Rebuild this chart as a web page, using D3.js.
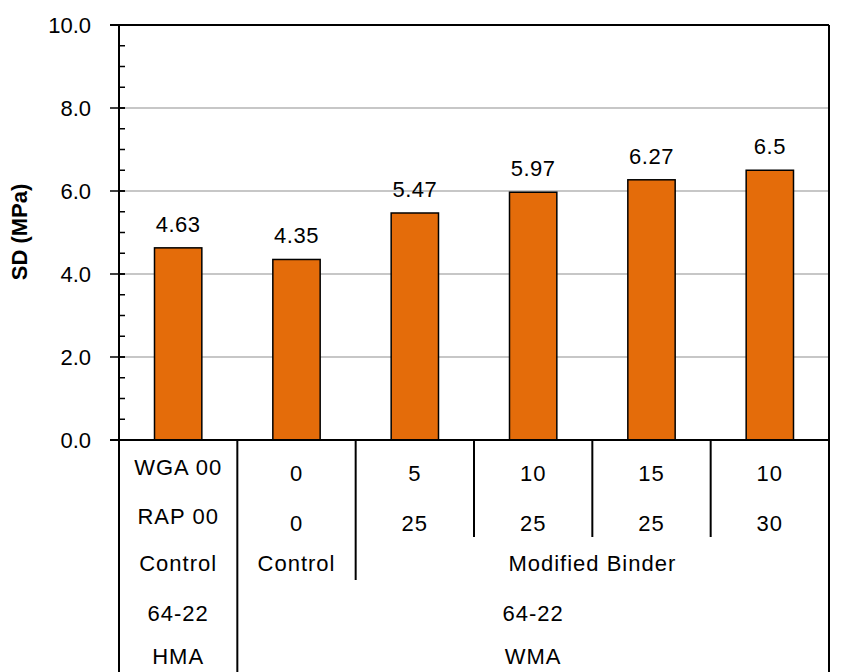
<!DOCTYPE html>
<html>
<head>
<meta charset="utf-8">
<script src="https://cdn.jsdelivr.net/npm/d3@7"></script>
<style>
  body { margin: 0; background: #fff; }
  text { font-family: "Liberation Sans", Arial, sans-serif; fill: #000; }
</style>
</head>
<body>
<div id="chart"></div>
<script>
// chart values
const values = [4.63, 4.35, 5.47, 5.97, 6.27, 6.5];
const valueLabels = ["4.63", "4.35", "5.47", "5.97", "6.27", "6.5"];
const wgaRow = ["WGA 00", "0", "5", "10", "15", "10"];
const rapRow = ["RAP 00", "0", "25", "25", "25", "30"];
const binderRow = [
    {label: "Control", from: 0, to: 0},
    {label: "Control", from: 1, to: 1},
    {label: "Modified Binder", from: 2, to: 5}
];
const gradeRow = [
    {label: "64-22", from: 0, to: 0},
    {label: "64-22", from: 1, to: 5}
];
const mixRow = [
    {label: "HMA", from: 0, to: 0},
    {label: "WMA", from: 1, to: 5}
];
const majorTicks = [0, 2, 4, 6, 8, 10];
const minorTicks = d3.range(0, 10.01, 0.5);

const CTX = {
    W: 856,
    H: 672,
    left: 119,
    right: 829,
    top: 25,
    bottom: 440,
    FS: 22,
    BAR: "#E46C0A"
};

const svg = d3.select("#chart").append("svg")
    .attr("width", CTX.W)
    .attr("height", CTX.H);

const y = d3.scaleLinear().domain([0, 10]).range([CTX.bottom, CTX.top]);
const cols = d3.scaleBand().domain(d3.range(values.length)).range([CTX.left, CTX.right]);
const x = d3.scaleBand().domain(d3.range(values.length)).range([CTX.left, CTX.right])
    .paddingInner(0.6).paddingOuter(0.3);

// gridlines
svg.append("g")
    .selectAll("line")
    .data(majorTicks.filter(d => d > 0 && d < 10))
    .enter()
    .append("line")
    .attr("x1", CTX.left).attr("x2", CTX.right)
    .attr("y1", d => y(d)).attr("y2", d => y(d))
    .style("stroke", "#b4b4b4")
    .style("stroke-width", 1.5);

// minor ticks (inside)
svg.append("g")
    .selectAll("line")
    .data(minorTicks)
    .enter()
    .append("line")
    .attr("x1", CTX.left).attr("x2", CTX.left + 6)
    .attr("y1", d => y(d)).attr("y2", d => y(d))
    .style("stroke", "#000")
    .style("stroke-width", 1.5);

// major ticks (cross)
svg.append("g")
    .selectAll("line")
    .data(majorTicks)
    .enter()
    .append("line")
    .attr("x1", CTX.left - 9).attr("x2", CTX.left + 6)
    .attr("y1", d => y(d)).attr("y2", d => y(d))
    .style("stroke", "#000")
    .style("stroke-width", 1.5);

// tick labels
svg.append("g")
    .selectAll("text")
    .data(majorTicks)
    .enter()
    .append("text")
    .attr("x", 91)
    .attr("y", d => y(d))
    .attr("dy", "0.36em")
    .attr("text-anchor", "end")
    .style("font-size", CTX.FS + "px")
    .text(d3.format(".1f"));

// y title
svg.append("text")
    .attr("transform", `translate(27,232) rotate(-90)`)
    .attr("text-anchor", "middle")
    .style("font-size", "22px")
    .style("font-weight", "bold")
    .text("SD (MPa)");

// bars
svg.append("g")
    .selectAll("rect")
    .data(values)
    .enter()
    .append("rect")
    .attr("x", (d, i) => x(i))
    .attr("width", x.bandwidth())
    .attr("y", d => y(d))
    .attr("height", d => y(0) - y(d))
    .style("fill", CTX.BAR)
    .style("stroke", "#000")
    .style("stroke-width", 1.5);

// value labels
svg.append("g")
    .selectAll("text")
    .data(values)
    .enter()
    .append("text")
    .attr("x", (d, i) => x(i) + x.bandwidth() / 2)
    .attr("y", d => y(d) - 16)
    .attr("text-anchor", "middle")
    .style("font-size", CTX.FS + "px")
    .style("letter-spacing", "0.5px")
    .text((d, i) => valueLabels[i]);

// plot frame
svg.append("line")
    .attr("x1", CTX.left - 9).attr("x2", CTX.right)
    .attr("y1", CTX.top).attr("y2", CTX.top)
    .style("stroke", "#000").style("stroke-width", 2);
svg.append("line")
    .attr("x1", CTX.left - 9).attr("x2", CTX.right)
    .attr("y1", CTX.bottom).attr("y2", CTX.bottom)
    .style("stroke", "#000").style("stroke-width", 2);
svg.append("line")
    .attr("x1", CTX.left).attr("x2", CTX.left)
    .attr("y1", CTX.top).attr("y2", CTX.H)
    .style("stroke", "#000").style("stroke-width", 2);
svg.append("line")
    .attr("x1", CTX.right).attr("x2", CTX.right)
    .attr("y1", CTX.top).attr("y2", CTX.H)
    .style("stroke", "#000").style("stroke-width", 2);

// table separators
const seps = [
    {i: 1, y2: CTX.H},
    {i: 2, y2: 580},
    {i: 3, y2: 537},
    {i: 4, y2: 537},
    {i: 5, y2: 537}
];
svg.append("g")
    .selectAll("line")
    .data(seps)
    .enter()
    .append("line")
    .attr("x1", d => cols(d.i)).attr("x2", d => cols(d.i))
    .attr("y1", CTX.bottom).attr("y2", d => d.y2)
    .style("stroke", "#000").style("stroke-width", 2);

// table rows
function cellRow(labels, yFirst, yRest) {
    svg.append("g")
        .selectAll("text")
        .data(labels)
        .enter()
        .append("text")
        .attr("x", (d, i) => cols(i) + cols.bandwidth() / 2)
        .attr("y", (d, i) => i === 0 ? yFirst : yRest)
        .attr("dy", "0.36em")
        .attr("text-anchor", "middle")
        .style("font-size", CTX.FS + "px")
        .style("letter-spacing", "1px")
        .text(d => d);
}

function spanRow(spans, yc) {
    svg.append("g")
        .selectAll("text")
        .data(spans)
        .enter()
        .append("text")
        .attr("x", d => (cols(d.from) + cols(d.to) + cols.bandwidth()) / 2)
        .attr("y", yc)
        .attr("dy", "0.36em")
        .attr("text-anchor", "middle")
        .style("font-size", CTX.FS + "px")
        .style("letter-spacing", "1px")
        .text(d => d.label);
}

cellRow(wgaRow, 467, 473);
cellRow(rapRow, 516, 523);
spanRow(binderRow, 563);
spanRow(gradeRow, 613);
spanRow(mixRow, 656);
</script>
</body>
</html>
